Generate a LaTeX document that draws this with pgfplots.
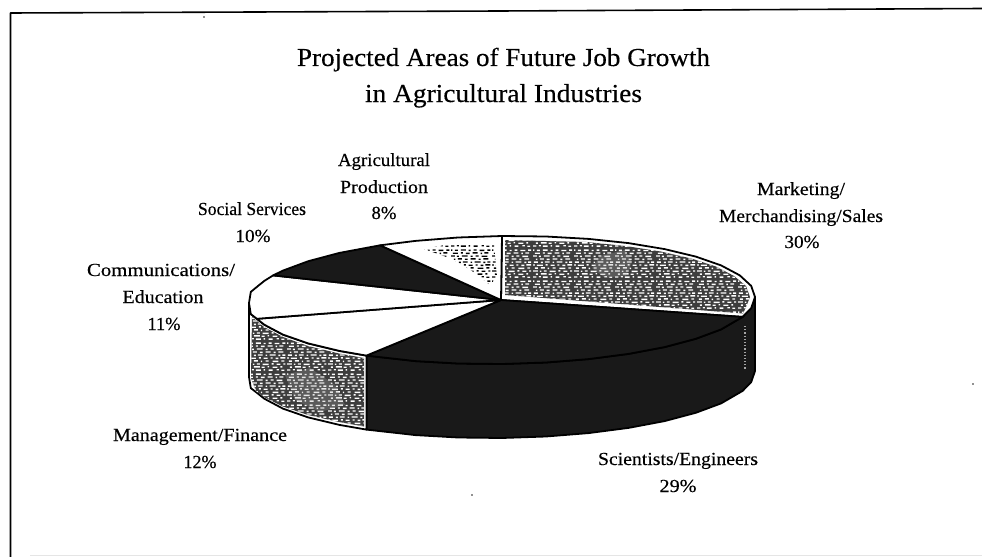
\documentclass[border=0pt]{standalone}
\usepackage{fontspec}
\setmainfont[FakeBold=0.35]{Liberation Serif}
\usepackage{graphicx}
\usepackage{pgfplots}
\pgfplotsset{compat=1.18}
\usetikzlibrary{patterns}

% Irregular stippled screen used for the shaded slices
\newcommand{\st}[3]{\pgfpathrectangle{\pgfqpoint{#1bp}{#2bp}}{\pgfqpoint{#3bp}{1.4bp}}}
\pgfdeclarepatternformonly{stipple}{\pgfpointorigin}{\pgfqpoint{41bp}{31bp}}{\pgfqpoint{41bp}{31bp}}{%
  \st{0}{0.3}{3.5}\st{6}{0.6}{2}\st{10}{0.2}{5}\st{18}{0.5}{1.5}\st{23}{0.2}{4}\st{31}{0.6}{2.5}\st{36}{0.1}{3}
  \st{3}{3.3}{2}\st{8}{3.5}{6}\st{16}{3.1}{3}\st{22}{3.6}{1.5}\st{27}{3.2}{5}\st{35}{3.5}{2}
  \st{0}{6.5}{5}\st{7}{6.2}{1.5}\st{11}{6.5}{3}\st{17}{6.1}{6}\st{26}{6.6}{2}\st{31}{6.2}{4}\st{38}{6.4}{2}
  \st{2}{9.4}{3}\st{8}{9.7}{4}\st{15}{9.2}{1.5}\st{20}{9.6}{3}\st{27}{9.2}{6}\st{36}{9.6}{3}
  \st{0}{12.6}{2}\st{4}{12.3}{6}\st{13}{12.7}{2}\st{18}{12.3}{4}\st{25}{12.6}{2}\st{30}{12.2}{3}\st{35}{12.7}{5}
  \st{1}{15.6}{4}\st{8}{15.3}{2}\st{12}{15.7}{5}\st{20}{15.4}{1.5}\st{24}{15.7}{6}\st{33}{15.3}{2}\st{37}{15.6}{3}
  \st{3}{18.5}{1.5}\st{7}{18.8}{4}\st{14}{18.4}{3}\st{20}{18.8}{5}\st{28}{18.4}{2}\st{33}{18.8}{5}
  \st{0}{21.8}{4}\st{6}{21.5}{2}\st{11}{21.8}{6}\st{20}{21.5}{2}\st{25}{21.8}{3}\st{31}{21.5}{6}
  \st{2}{24.6}{5}\st{10}{24.9}{2}\st{15}{24.5}{4}\st{22}{24.9}{5}\st{30}{24.5}{1.5}\st{34}{24.9}{4}
  \st{0}{27.8}{1.5}\st{4}{27.6}{3}\st{10}{27.9}{5}\st{18}{27.5}{2}\st{23}{27.9}{3}\st{29}{27.5}{5}\st{37}{27.8}{3}
  \pgfusepath{fill}}

\definecolor{pieblack}{gray}{0.10}
\definecolor{screen}{gray}{0.24}

% Shares: Marketing 30, Scientists 29, Management 12, Communications 11,
% Social Services 10, Agricultural Production 8 (percent, clockwise from 12 o'clock)
\pgfplotstableread{
x y
501 300
502 236
546 236.5
588.5 238.9
628.5 243.1
664.6 249.1
695.8 256.6
721.1 265.4
739.7 275.3
751.2 285.9
755 297
751.2 308.1
742.6 316.9
}\marketing
\pgfplotstableread{
x y
501 300
742.6 316.9
721.1 329.4
695.8 338.8
664.6 347.1
628.5 353.9
588.5 359.1
546 362.5
502 364
458 363.5
415.5 361.1
366.4 355.6
}\scientists
\pgfplotstableread{
x y
501 300
366.4 355.6
339.4 350.9
308.2 343.4
282.9 334.6
264.3 324.7
256.9 318.8
}\management
\pgfplotstableread{
x y
501 300
256.9 318.8
250.8 314.1
249 303
250.8 291.9
257.6 286.3
264.3 280.9
273.1 275.4
}\communications
\pgfplotstableread{
x y
501 300
273.1 275.4
282.9 270.6
308.2 261.2
339.4 252.9
380.1 245.3
}\social
\pgfplotstableread{
x y
501 300
380.1 245.3
415.5 240.9
458 237.5
502 236
}\agriculture
% Outer walls of the disc
\pgfplotstableread{
x y
755 297
751.2 308.1
742.6 316.9
721.1 329.4
695.8 338.8
664.6 347.1
628.5 353.9
588.5 359.1
546 362.5
502 364
458 363.5
415.5 361.1
366.4 355.6
366.4 429.6
415.5 435.1
458 437.5
502 438
546 436.5
588.5 433.1
628.5 427.9
664.6 421.1
695.8 412.8
721.1 403.4
742.6 390.9
751.2 382.1
755 371
}\frontwall
\pgfplotstableread{
x y
366.4 355.6
339.4 350.9
308.2 343.4
282.9 334.6
264.3 324.7
256.9 318.8
250.8 314.1
249 303
249 377
250.8 388.1
256.9 392.8
264.3 398.7
282.9 408.6
308.2 417.4
339.4 424.9
366.4 429.6
}\leftwall
% Shaded areas set inside their slice outlines
\pgfplotstableread{
x y
505 240
586.5 242
625.5 246
660.8 251.5
691.2 258.5
715.9 266.5
734.1 276
746 286
750 297
746 307
743 313.5
505 295
}\marketinginner
\pgfplotstableread{
x y
364 358
339 353.5
308 346
283 337
264 327
252 317
251 378
256 391
264 397
283 406.5
308 415
339 422
364 426.5
}\leftwallinner
\pgfplotstableread{
x y
424 249
445 245
494 245
497 277
490 285
472 271
452 259
}\agriculturepatch

\newcommand{\lab}[4]{\node[anchor=base, font=\fontsize{18.5}{22}\selectfont] at (axis cs:#1,#2) {\resizebox{#3bp}{\height}{#4}};}
\newcommand{\ttl}[4]{\node[anchor=base, font=\fontsize{26}{30}\selectfont] at (axis cs:#1,#2) {\resizebox{#3bp}{\height}{#4}};}

\begin{document}
\begin{tikzpicture}
\useasboundingbox (0,0) rectangle (982bp,557bp);
\begin{axis}[
  scale only axis, width=982bp, height=557bp,
  xmin=0, xmax=982, ymin=0, ymax=557, y dir=reverse,
  axis lines=none,
  every axis plot/.append style={line join=round},
]
% sheet border and faint scan edge
\addplot[black, line width=1.6pt] coordinates {(10.5,557) (10.5,13) (500,11) (982,8.5)};
\addplot[gray!20, line width=0.8pt] coordinates {(30,555.5) (982,555.5)};
\addplot[only marks, mark=*, mark size=0.7pt, black!70] coordinates {(204,17) (973,384) (472,495)};

% walls
\addplot[fill=pieblack, draw=black, line width=1.8pt] table {\frontwall} --cycle;
\addplot[fill=white, draw=black, line width=1.8pt] table {\leftwall} --cycle;
\addplot[fill=screen, draw=none, postaction={pattern=stipple, pattern color=white}] table {\leftwallinner} --cycle;
\addplot[fill=gray!70, fill opacity=0.28, draw=none] coordinates {(285,375) (310,368) (335,385) (345,405) (320,412) (295,400)} --cycle;
% slight breakup on the dark wall at its right end
\addplot[white!65!black, dotted, line width=1.2pt] coordinates {(745,326) (745,370)};

% top face
\addplot[fill=white, draw=black, line width=1.8pt] table {\marketing} --cycle;
\addplot[fill=screen, draw=none, postaction={pattern=stipple, pattern color=white}] table {\marketinginner} --cycle;
\addplot[fill=gray!70, fill opacity=0.28, draw=none] coordinates {(600,256) (625,250) (632,262) (626,276) (605,278) (592,268)} --cycle;
\addplot[fill=pieblack, draw=black, line width=1.8pt] table {\scientists} --cycle;
\addplot[fill=white, draw=black, line width=1.8pt] table {\management} --cycle;
\addplot[fill=white, draw=black, line width=1.8pt] table {\communications} --cycle;
\addplot[fill=pieblack, draw=black, line width=1.8pt] table {\social} --cycle;
\addplot[fill=white, draw=black, line width=1.8pt] table {\agriculture} --cycle;
\addplot[draw=none, pattern=stipple, pattern color=black] table {\agriculturepatch} --cycle;

% title
\ttl{503.5}{66}{413}{Projected Areas of Future Job Growth}
\ttl{503.5}{102}{277}{in Agricultural Industries}

% slice labels
\lab{384}{166}{92}{Agricultural}
\lab{384}{193}{88}{Production}
\lab{384}{219}{25}{8\%}
\lab{252}{215}{108}{Social Services}
\lab{253}{242}{35}{10\%}
\lab{161}{276}{148}{Communications/}
\lab{163}{303}{81}{Education}
\lab{164}{330}{33}{11\%}
\lab{801}{195}{88}{Marketing/}
\lab{801}{222}{164}{Merchandising/Sales}
\lab{802}{248}{35}{30\%}
\lab{200}{441}{174}{Management/Finance}
\lab{200}{468}{33}{12\%}
\lab{678}{465}{160}{Scientists/Engineers}
\lab{678}{492}{37}{29\%}
\end{axis}
\end{tikzpicture}
\end{document}
